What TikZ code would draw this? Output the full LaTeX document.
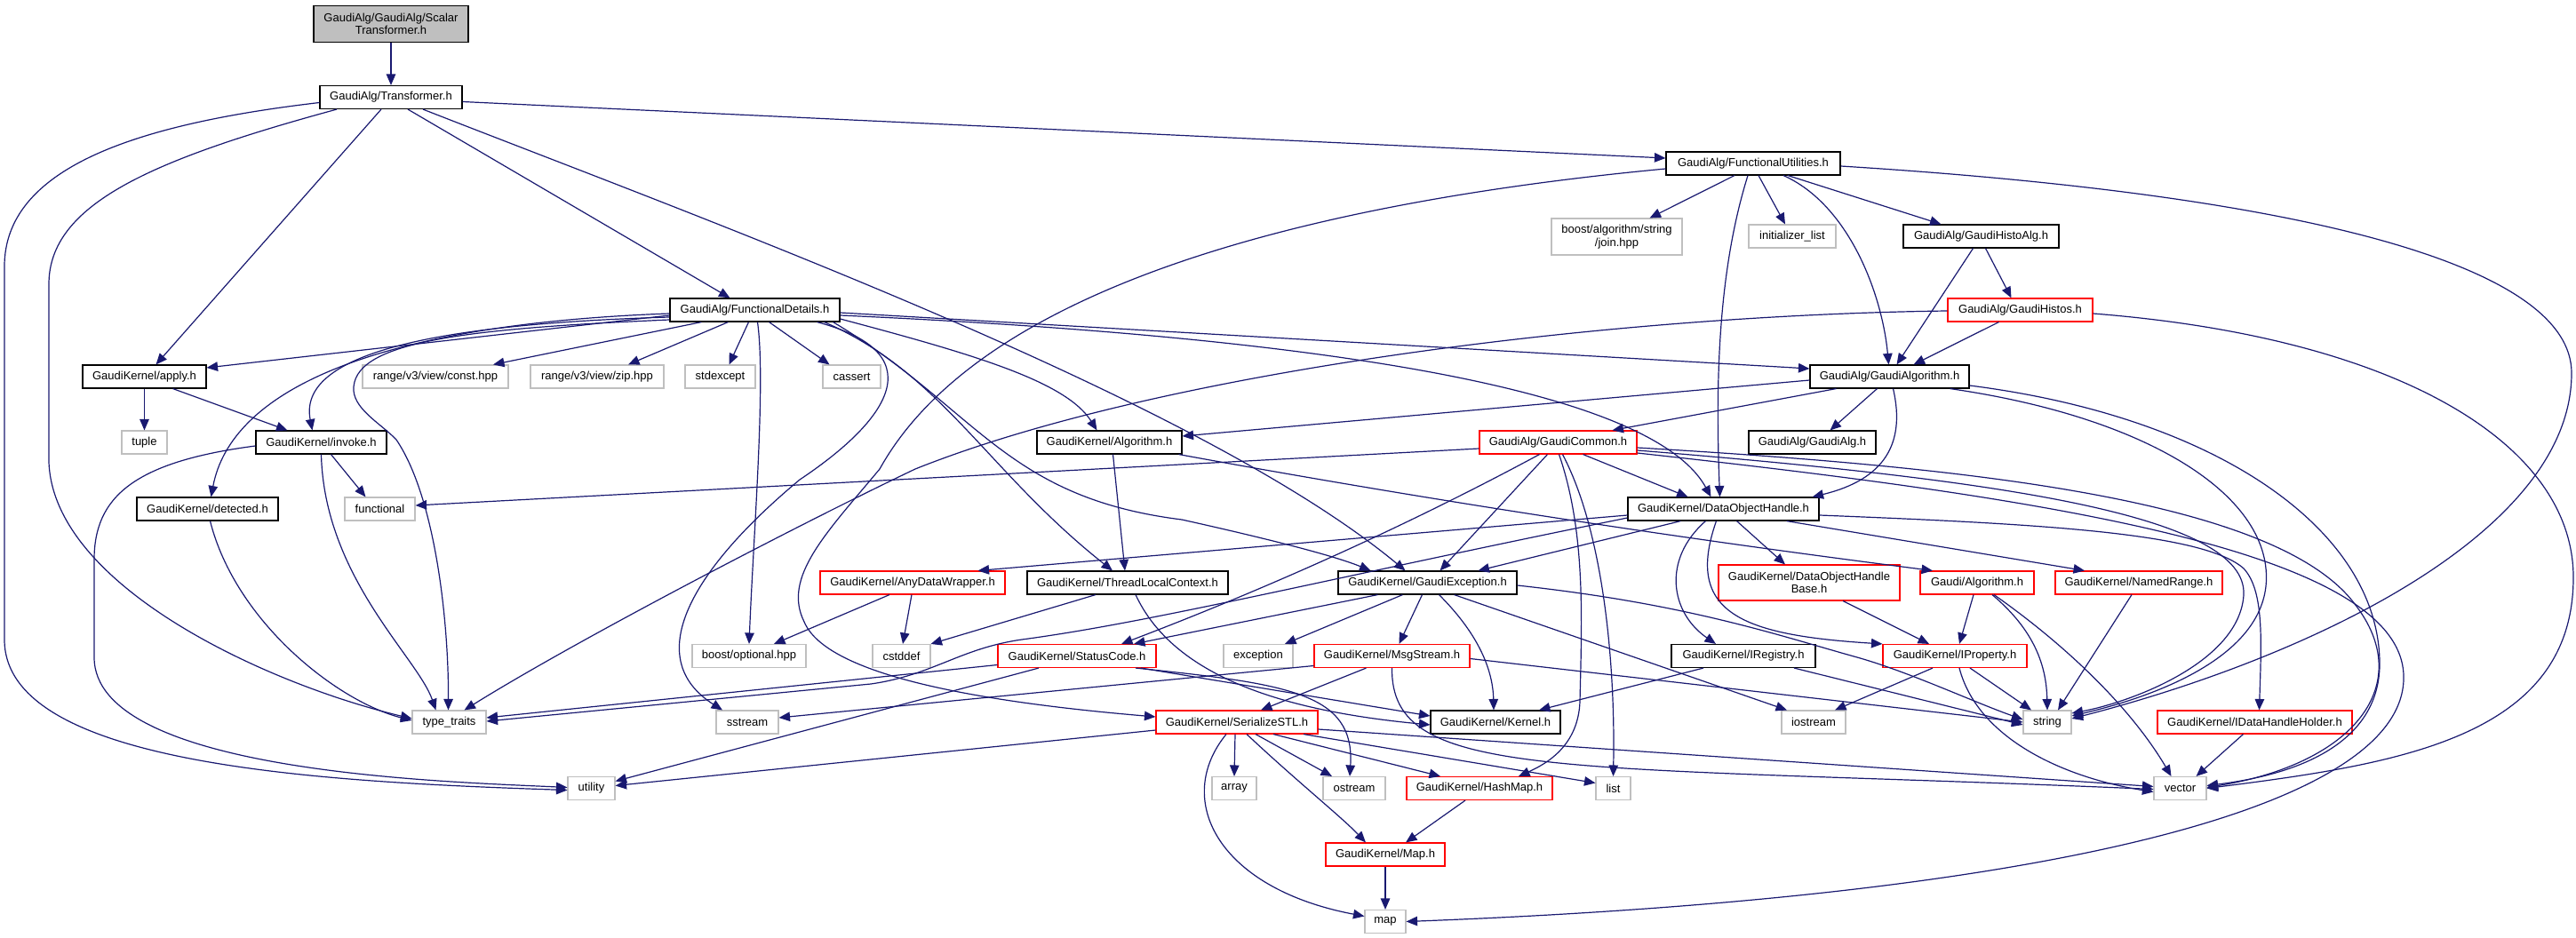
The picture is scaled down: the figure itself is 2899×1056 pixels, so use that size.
\documentclass[tikz,border=0pt]{standalone}
\usepackage{fontspec}
\setmainfont{Liberation Sans}
\usetikzlibrary{arrows.meta}
\definecolor{edgeblue}{HTML}{191970}
\definecolor{boxgray}{HTML}{BFBFBF}
\definecolor{boxred}{HTML}{FF0000}
\definecolor{topgray}{HTML}{BFBFBF}
\newcommand{\nodefont}{\fontsize{13}{14.5}\selectfont}
\tikzset{
  box/.style={draw=black, line width=1.1pt, fill=white, minimum height=26pt, inner xsep=2pt, inner ysep=2pt, font=\nodefont, align=center, text=black},
  gbox/.style={box, draw=boxgray},
  rbox/.style={box, draw=boxred},
  topbox/.style={box, fill=topgray},
  conn/.style={draw=edgeblue, line width=1.2pt, -{Triangle[length=12.5pt,width=10.5pt]}},
}
\begin{document}
\begin{tikzpicture}[x=1pt,y=-1pt]
\useasboundingbox (0,0) rectangle (2899,1056);
% ---------------- nodes ----------------
\node[topbox, minimum width=174pt, minimum height=41pt] (scalar) at (440,27) {GaudiAlg/GaudiAlg/Scalar\\Transformer.h};
\node[box, minimum width=160pt] (transformer) at (440,109.5) {GaudiAlg/Transformer.h};
\node[box, minimum width=196pt] (futil) at (1973,184) {GaudiAlg/FunctionalUtilities.h};
\node[gbox, minimum width=147pt, minimum height=41pt] (join) at (1819.5,266.5) {boost/algorithm/string\\/join.hpp};
\node[gbox, minimum width=98pt] (initlist) at (2017,266) {initializer\_list};
\node[box, minimum width=175pt] (histoalg) at (2229.5,266) {GaudiAlg/GaudiHistoAlg.h};
\node[box, minimum width=191pt] (fdetails) at (849.5,349) {GaudiAlg/FunctionalDetails.h};
\node[rbox, minimum width=163pt] (histos) at (2273.5,349) {GaudiAlg/GaudiHistos.h};
\node[box, minimum width=139pt] (apply) at (162.5,424) {GaudiKernel/apply.h};
\node[gbox, minimum width=164pt] (constv) at (490,424) {range/v3/view/const.hpp};
\node[gbox, minimum width=150pt] (zipv) at (672,424) {range/v3/view/zip.hpp};
\node[gbox, minimum width=79pt] (stdexcept) at (810.5,424) {stdexcept};
\node[gbox, minimum width=65pt] (cassert) at (958.5,424) {cassert};
\node[box, minimum width=179pt] (galgorithm) at (2126.5,424) {GaudiAlg/GaudiAlgorithm.h};
\node[gbox, minimum width=51pt] (tuple) at (162.5,498) {tuple};
\node[box, minimum width=147pt] (invoke) at (361.5,498) {GaudiKernel/invoke.h};
\node[box, minimum width=163pt] (kalgorithm) at (1248.5,498) {GaudiKernel/Algorithm.h};
\node[rbox, minimum width=177pt] (gcommon) at (1753.5,498) {GaudiAlg/GaudiCommon.h};
\node[box, minimum width=143pt] (galg) at (2039.5,498) {GaudiAlg/GaudiAlg.h};
\node[box, minimum width=159pt] (detected) at (233.5,573) {GaudiKernel/detected.h};
\node[gbox, minimum width=79pt] (functional) at (427.5,573) {functional};
\node[box, minimum width=215pt] (doh) at (1939.5,573) {GaudiKernel/DataObjectHandle.h};
\node[rbox, minimum width=208pt] (anydw) at (1027,656) {GaudiKernel/AnyDataWrapper.h};
\node[box, minimum width=226pt] (tlc) at (1269,656) {GaudiKernel/ThreadLocalContext.h};
\node[box, minimum width=201pt] (gexc) at (1606.5,656) {GaudiKernel/GaudiException.h};
\node[rbox, minimum width=204pt, minimum height=40pt] (dohbase) at (2036,656) {GaudiKernel/DataObjectHandle\\Base.h};
\node[rbox, minimum width=128pt] (galgo) at (2225,656) {Gaudi/Algorithm.h};
\node[rbox, minimum width=188pt] (named) at (2407,656) {GaudiKernel/NamedRange.h};
\node[gbox, minimum width=128pt] (optional) at (843,738.5) {boost/optional.hpp};
\node[gbox, minimum width=65pt] (cstddef) at (1014.5,738.5) {cstddef};
\node[rbox, minimum width=178pt] (status) at (1212,738.5) {GaudiKernel/StatusCode.h};
\node[gbox, minimum width=78pt] (exception) at (1416,738.5) {exception};
\node[rbox, minimum width=175pt] (msgstream) at (1566.5,738.5) {GaudiKernel/MsgStream.h};
\node[box, minimum width=162pt] (iregistry) at (1962,738.5) {GaudiKernel/IRegistry.h};
\node[rbox, minimum width=162pt] (iproperty) at (2200,738.5) {GaudiKernel/IProperty.h};
\node[gbox, minimum width=83pt] (typetraits) at (505.5,813) {type\_traits};
\node[gbox, minimum width=70pt] (sstream) at (841,813) {sstream};
\node[rbox, minimum width=182pt] (serialize) at (1392,813) {GaudiKernel/SerializeSTL.h};
\node[box, minimum width=146pt] (kernel) at (1683,813) {GaudiKernel/Kernel.h};
\node[gbox, minimum width=72pt] (iostream) at (2041,813) {iostream};
\node[gbox, minimum width=54pt] (string) at (2304,813) {string};
\node[rbox, minimum width=219pt] (idhh) at (2537.5,813) {GaudiKernel/IDataHandleHolder.h};
\node[gbox, minimum width=53pt] (utility) at (665.5,887.5) {utility};
\node[gbox, minimum width=50pt] (array) at (1389,887.5) {array};
\node[gbox, minimum width=70pt] (ostream) at (1524,887.5) {ostream};
\node[rbox, minimum width=164pt] (hashmap) at (1665,887.5) {GaudiKernel/HashMap.h};
\node[gbox, minimum width=39pt] (list) at (1815.5,887.5) {list};
\node[gbox, minimum width=59pt] (vector) at (2453.5,887.5) {vector};
\node[rbox, minimum width=134pt] (maph) at (1559,962) {GaudiKernel/Map.h};
\node[gbox, minimum width=46pt] (map) at (1559,1037.5) {map};
% ---------------- edges ----------------
\draw[conn] (scalar) -- (transformer);
% Transformer.h
\draw[conn] ([yshift=-5pt]transformer.east) -- ([yshift=6pt]futil.west);
\draw[conn] ([yshift=-6pt]transformer.west) .. controls (150,140) and (5,190) .. (5,300) -- (5,720) .. controls (5,860) and (350,880) .. ([yshift=-2pt]utility.west);
\draw[conn] ([xshift=-61pt]transformer.south) .. controls (170,180) and (55,230) .. (55,320) -- (55,520) .. controls (60,660) and (300,770) .. ([yshift=4pt]typetraits.west);
\draw[conn] ([xshift=-11pt]transformer.south) -- ([xshift=13pt]apply.north);
\draw[conn] ([xshift=19pt]transformer.south) -- ([xshift=-28pt]fdetails.north);
\draw[conn] ([xshift=36pt]transformer.south) .. controls (800,250) and (1350,450) .. ([xshift=-25pt]gexc.north);
% FunctionalUtilities.h
\draw[conn] ([xshift=-21pt]futil.south) -- ([xshift=37pt]join.north);
\draw[conn] ([xshift=6pt]futil.south) -- ([xshift=-8pt]initlist.north);
\draw[conn] ([xshift=34pt]futil.south) .. controls (2080,230) and (2118,330) .. ([xshift=-1pt]galgorithm.north);
\draw[conn] ([xshift=39pt]futil.south) -- ([xshift=-45pt]histoalg.north);
\draw[conn] ([xshift=-6pt]futil.south) .. controls (1935,300) and (1930,420) .. ([xshift=-4pt]doh.north);
\draw[conn] ([yshift=-6pt]futil.west) .. controls (1450,230) and (1100,330) .. (990,528) .. controls (930,600) and (880,650) .. (905,700) .. controls (930,760) and (1100,790) .. ([yshift=6pt]serialize.west);
\draw[conn] ([yshift=-3pt]futil.east) .. controls (2600,220) and (2894,300) .. (2894,420) .. controls (2894,600) and (2600,740) .. ([yshift=4pt]string.east);
% GaudiHistoAlg.h / GaudiHistos.h
\draw[conn] ([xshift=-9pt]histoalg.south) -- ([xshift=8pt]galgorithm.north);
\draw[conn] ([xshift=5pt]histoalg.south) -- ([xshift=-10pt]histos.north);
\draw[conn] ([xshift=-24pt]histos.south) -- ([xshift=27pt]galgorithm.north);
\draw[conn] ([yshift=-1pt]histos.west) .. controls (1800,355) and (1300,420) .. (1030,528) .. controls (900,590) and (650,720) .. ([xshift=17pt]typetraits.north);
\draw[conn] ([yshift=-4pt]histos.east) .. controls (2700,380) and (2896,500) .. (2896,650) .. controls (2896,830) and (2700,860) .. (vector.east);
% GaudiAlgorithm.h
\draw[conn] ([xshift=-14pt]galgorithm.south) -- ([xshift=20pt]galg.north);
\draw[conn] ([xshift=-60pt]galgorithm.south) -- ([xshift=61pt]gcommon.north);
\draw[conn] ([yshift=-4pt]galgorithm.west) -- ([yshift=7pt]kalgorithm.east);
\draw[conn] ([xshift=4pt]galgorithm.south) .. controls (2145,500) and (2120,540) .. ([xshift=-8pt]doh.north east);
\draw[conn] ([xshift=68pt]galgorithm.south) .. controls (2420,470) and (2560,560) .. (2550,660) .. controls (2540,750) and (2400,790) .. ([yshift=7pt]string.east);
\draw[conn] ([yshift=-10pt]galgorithm.east) .. controls (2500,470) and (2680,600) .. (2678,750) .. controls (2676,830) and (2600,870) .. ([yshift=3pt]vector.east);
% GaudiCommon.h
\draw[conn] ([yshift=-7pt]gcommon.west) -- ([yshift=4pt]functional.east);
\draw[conn] ([xshift=-12pt]gcommon.south) -- ([xshift=14pt]gexc.north);
\draw[conn] ([xshift=-21pt]gcommon.south) .. controls (1550,610) and (1380,680) .. ([xshift=50pt]status.north);
\draw[conn] ([xshift=28pt]gcommon.south) -- ([xshift=-40pt]doh.north);
\draw[conn] ([xshift=1pt]gcommon.south) .. controls (1785,600) and (1780,700) .. (1778,790) .. controls (1776,840) and (1740,860) .. ([xshift=44pt]hashmap.north);
\draw[conn] ([xshift=5pt]gcommon.south) .. controls (1805,600) and (1818,750) .. (list.north);
\draw[conn] ([yshift=-6pt]gcommon.east) .. controls (2200,525) and (2560,560) .. (2650,680) .. controls (2720,770) and (2650,860) .. ([yshift=1pt]vector.east);
\draw[conn] ([yshift=-9pt]gcommon.east) .. controls (2250,540) and (2530,580) .. (2525,670) .. controls (2520,745) and (2400,790) .. ([yshift=10pt]string.east);
\draw[conn] ([yshift=-12pt]gcommon.east) .. controls (2300,560) and (2700,620) .. (2705,760) .. controls (2710,910) and (2300,1010) .. (map.east);
% DataObjectHandle.h
\draw[conn] ([yshift=-7pt]doh.west) -- ([xshift=-31pt]anydw.north east);
\draw[conn] ([xshift=-48pt]doh.south) -- ([xshift=57pt]gexc.north);
\draw[conn] ([xshift=15pt]doh.south) -- ([xshift=-27pt]dohbase.north);
\draw[conn] ([xshift=-20pt]doh.south) .. controls (1870,630) and (1880,690) .. ([xshift=-31pt]iregistry.north);
\draw[conn] ([xshift=-8pt]doh.south) .. controls (1895,690) and (1960,715) .. (iproperty.north west);
\draw[conn] ([xshift=71pt]doh.south) -- ([xshift=-61pt]named.north);
\draw[conn] ([yshift=-7pt]doh.east) .. controls (2300,590) and (2480,600) .. (2525,640) .. controls (2548,665) and (2545,720) .. ([xshift=5pt]idhh.north);
\draw[conn] ([yshift=-10pt]doh.west) .. controls (1500,650) and (1300,700) .. (1150,720) .. controls (1080,730) and (1050,760) .. (980,770) -- ([yshift=1pt]typetraits.east);
% StatusCode.h
\draw[conn] ([yshift=-10pt]status.west) -- ([yshift=5pt]typetraits.east);
\draw[conn] ([xshift=-43pt]status.south) -- ([yshift=8pt]utility.east);
\draw[conn] ([xshift=72pt]status.south) -- ([yshift=7pt]kernel.west);
\draw[conn] ([xshift=66pt]status.south) .. controls (1450,770) and (1525,780) .. ([xshift=-5pt]ostream.north);
% ThreadLocalContext, AnyDataWrapper, Algorithm.h
\draw[conn] ([xshift=-36pt]tlc.south) -- (cstddef.north east);
\draw[conn] ([xshift=9pt]tlc.south) .. controls (1320,760) and (1440,800) .. ([yshift=-3pt]kernel.west);
\draw[conn] ([xshift=-26pt]anydw.south) -- ([xshift=28pt]optional.north);
\draw[conn] ([xshift=-1pt]anydw.south) -- ([xshift=1.5pt]cstddef.north);
\draw[conn] ([xshift=4pt]kalgorithm.south) -- ([xshift=-3pt]tlc.north);
\draw[conn] ([xshift=-4pt]kalgorithm.south east) .. controls (1700,580) and (2000,620) .. ([xshift=-50pt]galgo.north);
% FunctionalDetails.h
\draw[conn] ([yshift=-6pt]fdetails.west) -- ([yshift=10pt]apply.east);
\draw[conn] ([yshift=-8pt]fdetails.west) .. controls (480,365) and (335,400) .. ([xshift=-10pt]invoke.north);
\draw[conn] ([yshift=-4pt]fdetails.west) .. controls (420,365) and (260,440) .. ([xshift=4pt]detected.north);
\draw[conn] ([yshift=-11pt]fdetails.west) .. controls (520,370) and (395,385) .. (398,440) .. controls (400,462) and (430,478) .. (446,495) .. controls (490,560) and (505,700) .. ([xshift=-1pt]typetraits.north);
\draw[conn] ([xshift=-60pt]fdetails.south) -- ([xshift=65pt]constv.north);
\draw[conn] ([xshift=-30pt]fdetails.south) -- ([xshift=35pt]zipv.north);
\draw[conn] ([xshift=-7pt]fdetails.south) -- ([xshift=10pt]stdexcept.north);
\draw[conn] ([xshift=16pt]fdetails.south) -- ([xshift=-25pt]cassert.north);
\draw[conn] ([xshift=3pt]fdetails.south) .. controls (862,430) and (848,600) .. (optional.north);
\draw[conn] ([xshift=70pt]fdetails.south) .. controls (1060,400) and (990,480) .. (900,540) .. controls (780,640) and (720,740) .. ([xshift=-28pt]sstream.north);
\draw[conn] ([xshift=78pt]fdetails.south) .. controls (1060,420) and (1110,530) .. ([xshift=-17pt]tlc.north);
\draw[conn] ([xshift=88pt]fdetails.south) .. controls (1100,460) and (1130,560) .. (1330,585) .. controls (1420,605) and (1500,625) .. ([xshift=-64pt]gexc.north);
\draw[conn] ([yshift=-10pt]fdetails.east) .. controls (1100,400) and (1200,430) .. ([xshift=-14pt]kalgorithm.north);
\draw[conn] ([yshift=-3pt]fdetails.east) -- ([yshift=9pt]galgorithm.west);
\draw[conn] ([yshift=-6pt]fdetails.east) .. controls (1500,380) and (1860,440) .. ([xshift=-14pt]doh.north);
% apply.h, invoke.h, detected.h
\draw[conn] (apply) -- (tuple);
\draw[conn] ([xshift=32pt]apply.south) -- ([xshift=-38pt]invoke.north);
\draw[conn] ([xshift=11pt]invoke.south) -- ([xshift=-16pt]functional.north);
\draw[conn] (invoke.south) .. controls (365,650) and (470,740) .. ([xshift=-15pt]typetraits.north);
\draw[conn] ([yshift=-4pt]invoke.west) .. controls (150,520) and (106,560) .. (106,630) -- (106,740) .. controls (106,870) and (500,880) .. ([yshift=1pt]utility.west);
\draw[conn] ([xshift=3pt]detected.south) .. controls (265,700) and (380,790) .. ([yshift=2pt]typetraits.west);
% GaudiException.h
\draw[conn] ([xshift=-28pt]gexc.south) -- ([xshift=30pt]exception.north);
\draw[conn] ([xshift=-56pt]gexc.south) -- ([xshift=64pt]status.north);
\draw[conn] ([xshift=-6pt]gexc.south) -- ([xshift=8pt]msgstream.north);
\draw[conn] ([xshift=13pt]gexc.south) .. controls (1660,710) and (1680,750) .. ([xshift=-2pt]kernel.north);
\draw[conn] ([xshift=30pt]gexc.south) -- ([xshift=-30pt]iostream.north);
\draw[conn] ([yshift=-3pt]gexc.east) .. controls (1900,680) and (2000,715) .. (2090,740) .. controls (2150,757) and (2220,790) .. ([yshift=3pt]string.west);
% MsgStream.h
\draw[conn] ([yshift=-11pt]msgstream.west) -- ([yshift=5pt]sstream.east);
\draw[conn] ([xshift=-29pt]msgstream.south) -- ([xshift=27pt]serialize.north);
\draw[conn] ([yshift=-3pt]msgstream.east) -- (string.west);
\draw[conn] (msgstream.south) .. controls (1565,880) and (1750,860) .. ([yshift=-1pt]vector.west);
% IRegistry, IProperty, DataObjectHandleBase, Gaudi/Algorithm, NamedRange, IDataHandleHolder
\draw[conn] ([xshift=-45pt]iregistry.south) -- ([xshift=49pt]kernel.north);
\draw[conn] ([xshift=57pt]iregistry.south) -- ([yshift=-3pt]string.west);
\draw[conn] ([xshift=-25pt]iproperty.south) -- ([xshift=24pt]iostream.north);
\draw[conn] ([xshift=17pt]iproperty.south) -- ([xshift=-18pt]string.north);
\draw[conn] ([xshift=5pt]iproperty.south) .. controls (2225,830) and (2320,875) .. ([yshift=-4pt]vector.west);
\draw[conn] ([xshift=38pt]dohbase.south) -- ([xshift=-29pt]iproperty.north);
\draw[conn] ([xshift=-4pt]galgo.south) -- ([xshift=5pt]iproperty.north);
\draw[conn] ([xshift=17pt]galgo.south) .. controls (2290,710) and (2303,750) .. (string.north);
\draw[conn] ([xshift=19pt]galgo.south) .. controls (2330,730) and (2400,800) .. ([xshift=-10pt]vector.north);
\draw[conn] ([xshift=-8pt]named.south) -- ([xshift=12pt]string.north);
\draw[conn] ([xshift=-13pt]idhh.south) -- ([xshift=18pt]vector.north);
% SerializeSTL.h
\draw[conn] ([yshift=-9pt]serialize.west) -- ([yshift=3pt]utility.east);
\draw[conn] ([xshift=-2pt]serialize.south) -- (array.north);
\draw[conn] ([xshift=21pt]serialize.south) -- ([xshift=-25pt]ostream.north);
\draw[conn] ([xshift=41pt]serialize.south) -- ([xshift=-44pt]hashmap.north);
\draw[conn] ([xshift=75pt]serialize.south) -- ([yshift=6pt]list.west);
\draw[conn] ([yshift=-8pt]serialize.east) -- ([yshift=2pt]vector.west);
\draw[conn] ([xshift=-12pt]serialize.south) .. controls (1320,900) and (1370,1000) .. ([yshift=6pt]map.west);
\draw[conn] ([xshift=11pt]serialize.south) .. controls (1460,880) and (1510,920) .. ([xshift=-22pt]maph.north);
\draw[conn] ([xshift=-16pt]hashmap.south) -- ([xshift=23pt]maph.north);
\draw[conn] (maph) -- (map);
\end{tikzpicture}
\end{document}
